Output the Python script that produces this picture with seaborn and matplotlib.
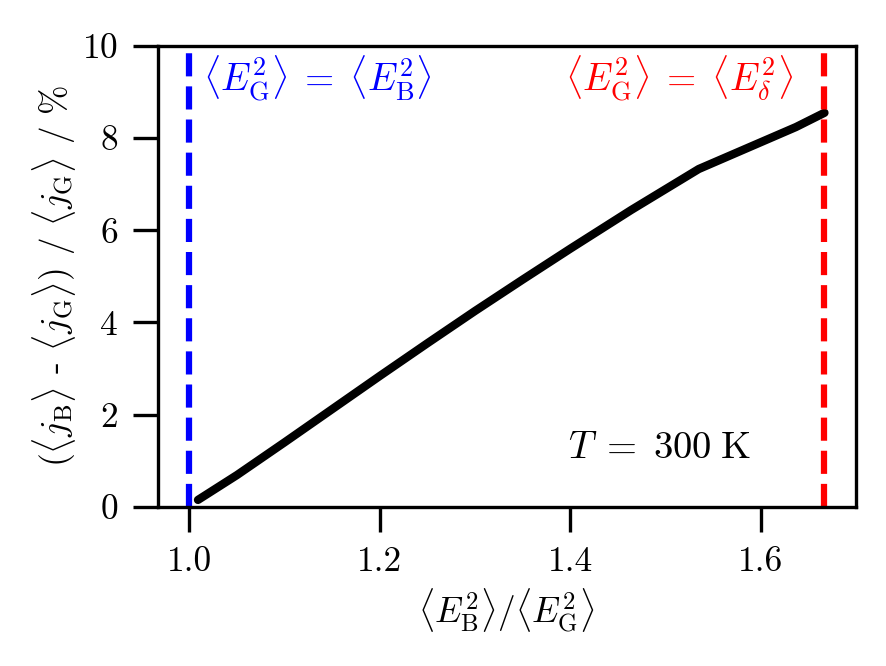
import matplotlib
matplotlib.use("Agg")
import matplotlib.pyplot as plt
import seaborn as sns
import pandas as pd

# Data
ratio = [1.009, 1.05, 1.10, 1.15, 1.20, 1.25, 1.30, 1.35, 1.40, 1.464, 1.535, 1.637, 1.667]
rel_diff = [0.15, 0.69, 1.40, 2.12, 2.84, 3.55, 4.25, 4.93, 5.60, 6.44, 7.33, 8.24, 8.55]
x_equal_B = 1.0
x_equal_delta = 5.0 / 3.0
x_ticks = [1.0, 1.2, 1.4, 1.6]
y_ticks = [0, 2, 4, 6, 8, 10]

sns.set_theme(style="ticks")
plt.rcParams.update({
    "font.family": "serif",
    "font.serif": ["cmr10"],
    "mathtext.fontset": "cm",
    "axes.formatter.use_mathtext": True,
    "font.size": 8.5,
    "axes.labelsize": 8.5,
    "xtick.labelsize": 8.5,
    "ytick.labelsize": 8.5,
    "axes.linewidth": 0.8,
    "xtick.major.width": 0.8,
    "ytick.major.width": 0.8,
    "axes.edgecolor": "black",
    "axes.labelcolor": "black",
    "text.color": "black",
    "xtick.color": "black",
    "ytick.color": "black",
    "axes.unicode_minus": False,
})

df = pd.DataFrame({"ratio": ratio, "diff": rel_diff})

fig = plt.figure(figsize=(886 / 300, 666 / 300), dpi=300)
ax = fig.add_axes([0.178, 0.239, 0.788, 0.692])

sns.lineplot(data=df, x="ratio", y="diff", color="black", linewidth=2.0, ax=ax)
ax.axvline(x_equal_B, color="blue", linestyle="--", linewidth=1.5)
ax.axvline(x_equal_delta, color="red", linestyle="--", linewidth=1.5)

ax.set_xlim(0.9667, 1.7)
ax.set_ylim(0, 10)
ax.set_xticks(x_ticks)
ax.set_xticklabels(["1.0", "1.2", "1.4", "1.6"])
ax.set_yticks(y_ticks)

ax.set_xlabel(r"$\langle E_\mathrm{B}^2\rangle / \langle E_\mathrm{G}^2\rangle$", labelpad=2)
ax.set_ylabel(r"($\langle j_\mathrm{B}\rangle$ - $\langle j_\mathrm{G}\rangle$) / $\langle j_\mathrm{G}\rangle$ / %", labelpad=1)

ax.text(1.014, 9.28, r"$\langle E_\mathrm{G}^2\rangle\;=\;\langle E_\mathrm{B}^2\rangle$",
        color="blue", ha="left", va="center", fontsize=9)
ax.text(1.634, 9.28, r"$\langle E_\mathrm{G}^2\rangle\;=\;\langle E_\delta^2\rangle$",
        color="red", ha="right", va="center", fontsize=9)
ax.text(1.398, 1.26, r"$T\;=\;300\;\mathrm{K}$", color="black", ha="left", va="center", fontsize=9.3)

fig.savefig("out.png", dpi=300)
